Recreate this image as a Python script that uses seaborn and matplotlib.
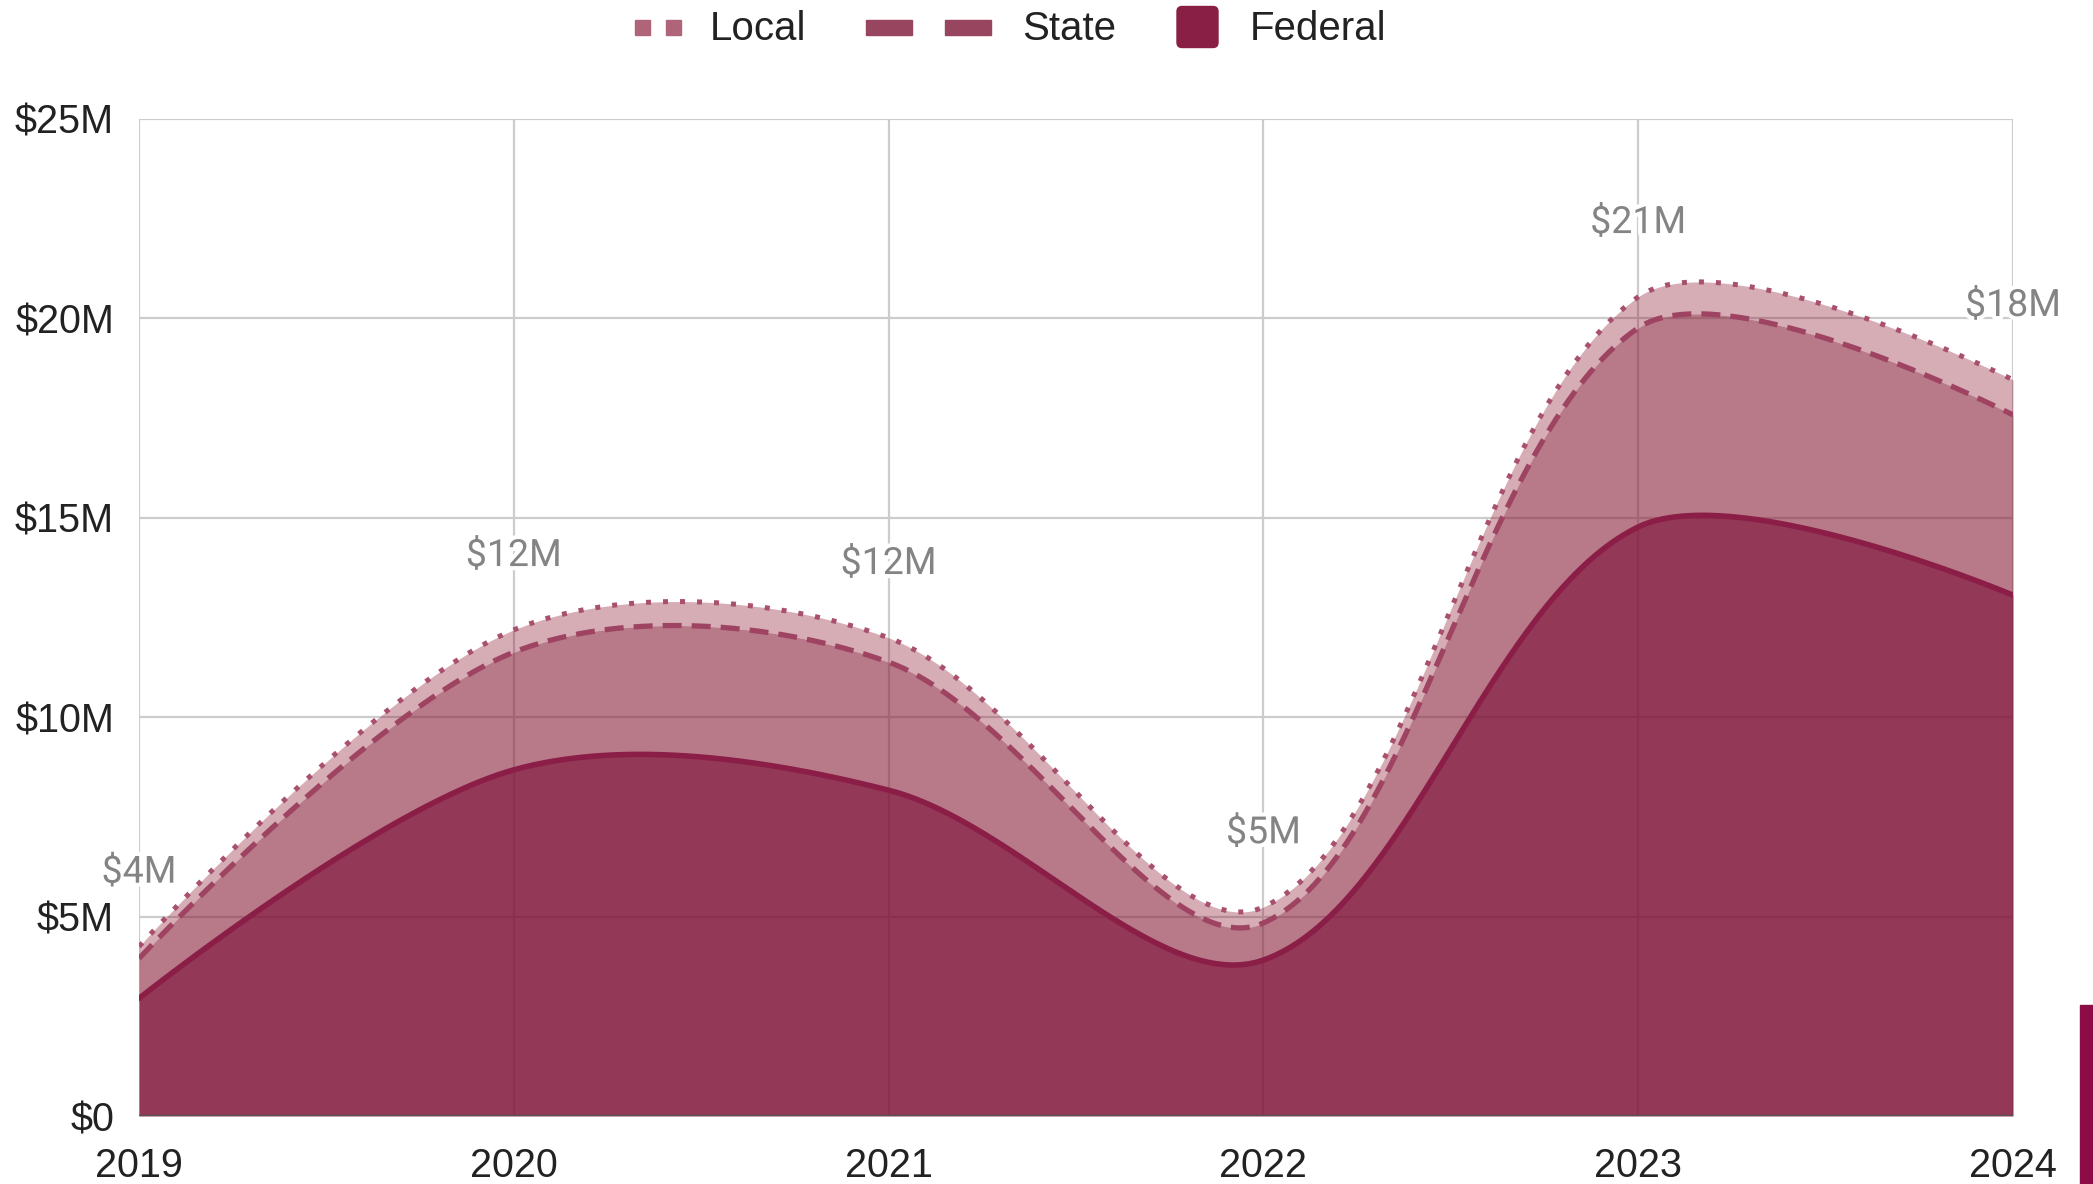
import numpy as np
import pandas as pd
import matplotlib
matplotlib.use("Agg")
import matplotlib.pyplot as plt
import seaborn as sns
import matplotlib.patheffects as pe
from matplotlib.patches import Rectangle, FancyBboxPatch
from matplotlib.transforms import IdentityTransform

# ---------------- data ----------------
years = [2019, 2020, 2021, 2022, 2023, 2024]
federal = [2.95, 8.68, 8.17, 3.91, 14.77, 13.06]   # $M
state = [1.00, 2.95, 3.21, 0.93, 4.99, 4.52]       # $M
local = [0.30, 0.56, 0.61, 0.40, 0.78, 0.88]       # $M
legend_names = ["Local", "State", "Federal"]
y_ticks = [0, 5, 10, 15, 20, 25]
y_tick_labels = ["$0", "$5M", "$10M", "$15M", "$20M", "$25M"]

# ---------------- style ----------------
W, H = 2093, 1184
sns.set_theme(style="white")
plt.rcParams["font.family"] = ["Liberation Sans", "DejaVu Sans"]

fig = plt.figure(figsize=(W / 100, H / 100), dpi=100)
L, R, T, B = 139, 2013, 119, 1116
ax = fig.add_axes([L / W, 1 - B / H, (R - L) / W, (B - T) / H])

SX = (R - L) / 5.0    # px per year
SY = (B - T) / 25.0   # px per $M


def smooth_curve(xs, ys, t=0.33, n=150):
    """Render a smooth curve through the points (Google 'function' style)."""
    P = np.column_stack([np.asarray(xs, float) * SX, np.asarray(ys, float) * SY])
    N = len(P)
    cin, cout = P.copy(), P.copy()
    for i in range(1, N - 1):
        d01 = np.linalg.norm(P[i] - P[i - 1])
        d12 = np.linalg.norm(P[i + 1] - P[i])
        v = P[i + 1] - P[i - 1]
        cin[i] = P[i] - v * t * d01 / (d01 + d12)
        cout[i] = P[i] + v * t * d12 / (d01 + d12)
    s = np.linspace(0, 1, n)[:, None]
    pts = []
    for i in range(N - 1):
        p0, c0, c1, p1 = P[i], cout[i], cin[i + 1], P[i + 1]
        seg = ((1 - s) ** 3) * p0 + 3 * ((1 - s) ** 2) * s * c0 + 3 * (1 - s) * s ** 2 * c1 + s ** 3 * p1
        pts.append(seg if i == 0 else seg[1:])
    pts = np.vstack(pts)
    order = np.argsort(pts[:, 0])
    return pts[order, 0] / SX, pts[order, 1] / SY


cum_fed = np.array(federal)
cum_state = cum_fed + np.array(state)
cum_local = cum_state + np.array(local)

grid = np.linspace(years[0], years[-1], 2001)


def rendered(vals):
    cx, cy = smooth_curve(years, vals)
    return np.interp(grid, cx, cy)


fed_s, state_s, local_s = rendered(cum_fed), rendered(cum_state), rendered(cum_local)
df = pd.DataFrame({"year": grid, "Federal": fed_s, "State": state_s, "Local": local_s})

# fills (semi transparent so the grid shows through)
ax.fill_between(grid, 0, fed_s, color="#801539", alpha=0.85, lw=0, zorder=2)
ax.fill_between(grid, fed_s, state_s, color="#892139", alpha=0.60, lw=0, zorder=2)
ax.fill_between(grid, state_s, local_s, color="#8A122C", alpha=0.35, lw=0, zorder=2)

# lines via seaborn
sns.lineplot(data=df, x="year", y="Federal", ax=ax, color="#8B1E47", lw=4.0,
             errorbar=None, estimator=None, zorder=4)
sns.lineplot(data=df, x="year", y="State", ax=ax, color="#9E4462", lw=3.8,
             linestyle=(0, (3.6, 1.9)), dash_capstyle="butt",
             errorbar=None, estimator=None, zorder=4)
sns.lineplot(data=df, x="year", y="Local", ax=ax, color="#A8506E", lw=3.6,
             linestyle=(0, (1.0, 2.4)), dash_capstyle="butt",
             errorbar=None, estimator=None, zorder=4)

ax.axhline(0, color="#555555", lw=1.6, zorder=5)

# axes
ax.set_xlim(years[0], years[-1])
ax.set_ylim(0, 25)
ax.set_xticks(years)
ax.set_xticklabels([str(y) for y in years])
ax.set_yticks(y_ticks)
ax.set_yticklabels(y_tick_labels)
ax.set_xlabel("")
ax.set_ylabel("")
ax.grid(True, color="#CCCCCC", lw=1.6)
ax.set_axisbelow(True)
for sp in ax.spines.values():
    sp.set_visible(False)
ax.tick_params(axis="both", length=0, labelsize=28.5, labelcolor="#222222")
ax.tick_params(axis="y", pad=18)
ax.tick_params(axis="x", pad=22)

# total labels
for yr, tot in zip(years, cum_local):
    ax.annotate(f"${round(tot):.0f}M", xy=(yr, tot), xytext=(0, 53.5),
                textcoords="offset points", ha="center", va="center",
                fontsize=27, family=["Roboto", "DejaVu Sans"], color="#848484",
                path_effects=[pe.withStroke(linewidth=6, foreground="white")],
                annotation_clip=False, zorder=6)

# legend (manual, pixel positions)
ident = IdentityTransform()
ly = H - 27  # legend center (display coords, from bottom)
for x0 in (635, 666):
    fig.add_artist(Rectangle((x0, ly - 7.5), 15, 15, color="#B0647A", transform=ident))
for x0 in (866, 945):
    fig.add_artist(Rectangle((x0, ly - 7.5), 46, 15, color="#98465F", transform=ident))
fig.add_artist(FancyBboxPatch((1177, ly - 20.5), 41, 41, boxstyle="round,pad=0,rounding_size=5",
                              color="#8A1F45", transform=ident))
for name, x0 in zip(legend_names, (710, 1022, 1250)):
    fig.text(x0 / W, (ly - 2) / H, name, ha="left", va="center", fontsize=29, color="#222222")

# decorative bar at right edge
fig.add_artist(Rectangle((2080, 0), 13, H - 1005, color="#8C0C46", transform=ident))

fig.savefig("out.png", dpi=100)
